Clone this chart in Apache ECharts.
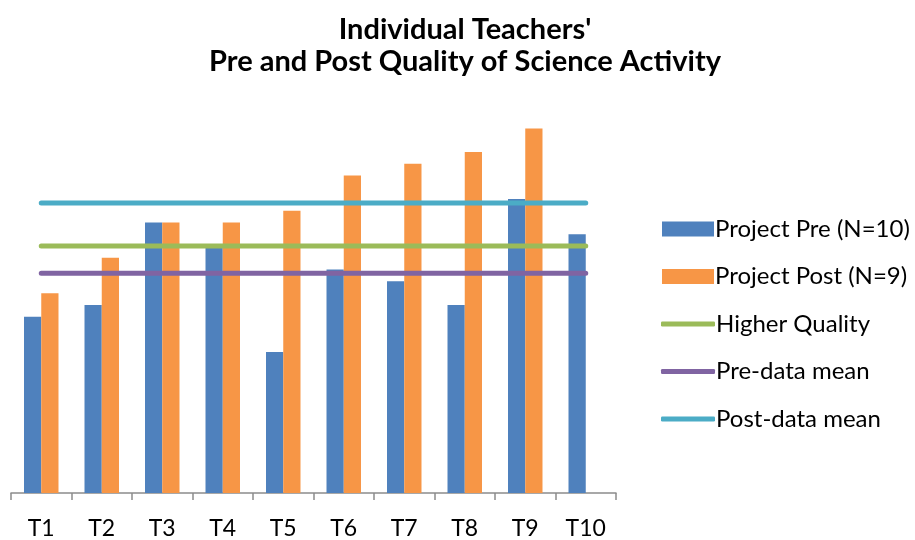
<!DOCTYPE html>
<html>
<head>
<meta charset="utf-8">
<script src="https://cdn.jsdelivr.net/npm/echarts@6/dist/echarts.min.js"></script>
<style>
  html, body { margin: 0; padding: 0; background: #fff; }
  #chart { width: 915px; height: 540px; }
</style>
</head>
<body>
<div id="chart"></div>
<script>
  // teachers
  var teachers = ['T1', 'T2', 'T3', 'T4', 'T5', 'T6', 'T7', 'T8', 'T9', 'T10'];
  // scores
  var preScores = [15, 16, 23, 21, 12, 19, 18, 16, 25, 22];
  var postScores = [17, 20, 23, 23, 24, 27, 28, 29, 31, '-'];
  // reference levels
  var higherQuality = 21;
  var preMean = 18.7;
  var postMean = 24.67;

  function flat(v) {
    return teachers.map(function () { return v; });
  }

  var font = 'Lato, "Open Sans", sans-serif';
  var legendText = { fontFamily: font, fontSize: 24, lineHeight: 24, color: '#000', padding: [0, 0, 0, -4] };
  var myChart = echarts.init(document.getElementById('chart'));

  myChart.setOption({
    animation: false,
    title: {
      text: "Individual Teachers'\nPre and Post Quality of Science Activity",
      left: 460,
      textAlign: 'center',
      top: 9,
      textStyle: {
        fontFamily: font,
        fontSize: 29,
        fontWeight: 'bold',
        color: '#000',
        lineHeight: 32
      }
    },
    // bars and lines get separate legends so the line icons can be thin
    legend: [
      {
        orient: 'vertical',
        left: 657,
        top: 212,
        itemWidth: 52,
        itemHeight: 15,
        itemGap: 23.5,
        icon: 'rect',
        textStyle: legendText,
        data: ['Project Pre (N=10)', 'Project Post (N=9)']
      },
      {
        orient: 'vertical',
        left: 656,
        top: 307,
        itemWidth: 54,
        itemHeight: 5,
        itemGap: 23.5,
        icon: 'roundRect',
        textStyle: legendText,
        data: ['Higher Quality', 'Pre-data mean', 'Post-data mean']
      }
    ],
    grid: {
      left: 11,
      right: 299,
      top: 81.5,
      bottom: 46
    },
    xAxis: {
      type: 'category',
      data: teachers,
      axisLine: { lineStyle: { color: '#8c8c8c', width: 1.5 } },
      axisTick: { show: true, length: 7, lineStyle: { color: '#8c8c8c', width: 1.5 } },
      axisLabel: { fontFamily: font, fontSize: 23, color: '#000', margin: 24 }
    },
    yAxis: {
      type: 'value',
      min: 0,
      max: 35,
      show: false
    },
    series: [
      {
        name: 'Project Pre (N=10)',
        type: 'bar',
        data: preScores,
        barGap: '0%',
        barCategoryGap: '43%',
        itemStyle: { color: '#4F81BD' }
      },
      {
        name: 'Project Post (N=9)',
        type: 'bar',
        data: postScores,
        itemStyle: { color: '#F79646' }
      },
      {
        name: 'Higher Quality',
        type: 'line',
        data: flat(higherQuality),
        symbol: 'none',
        lineStyle: { color: '#9BBB59', width: 5, cap: 'round' },
        itemStyle: { color: '#9BBB59' }
      },
      {
        name: 'Pre-data mean',
        type: 'line',
        data: flat(preMean),
        symbol: 'none',
        lineStyle: { color: '#8064A2', width: 5, cap: 'round' },
        itemStyle: { color: '#8064A2' }
      },
      {
        name: 'Post-data mean',
        type: 'line',
        data: flat(postMean),
        symbol: 'none',
        lineStyle: { color: '#4BACC6', width: 5, cap: 'round' },
        itemStyle: { color: '#4BACC6' }
      }
    ]
  });

  window.addEventListener('resize', function () {
    myChart.resize();
  });
</script>
</body>
</html>
